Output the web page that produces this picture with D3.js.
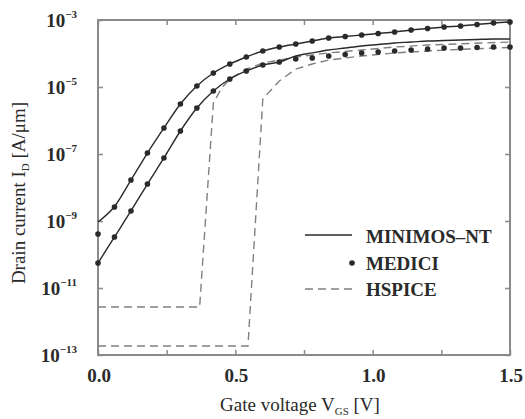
<!DOCTYPE html>
<html><head><meta charset="utf-8">
<script src="https://cdn.jsdelivr.net/npm/d3@7"></script>
<style>body{margin:0;background:#fff}</style>
</head><body>
<svg id="chart" width="525" height="419"></svg>
<script>
// Gate voltage grid of the device simulations [V]
const vgGrid = [0.00,0.06,0.12,0.18,0.24,0.30,0.36,0.42,0.48,0.54,0.60,0.66,0.72,
                0.78,0.84,0.90,0.96,1.02,1.08,1.14,1.20,1.26,1.32,1.38,1.44,1.50];

// MEDICI drain current [A/um]
const mediciUpper = [4.09e-10,2.62e-9,1.67e-8,1.07e-7,5.97e-7,3.11e-6,1.07e-5,2.62e-5,4.86e-5,
                     7.87e-5,1.19e-4,1.56e-4,1.92e-4,2.36e-4,2.90e-4,3.21e-4,3.56e-4,3.95e-4,
                     4.39e-4,5.02e-4,5.57e-4,6.18e-4,6.62e-4,7.35e-4,8.13e-4,8.71e-4];
const mediciLower = [5.57e-11,3.33e-10,1.99e-9,1.27e-8,7.60e-8,4.86e-7,2.36e-6,7.60e-6,1.73e-5,
                     3.01e-5,4.54e-5,5.57e-5,6.85e-5,7.34e-5,8.42e-5,9.33e-5,1.04e-4,1.11e-4,
                     1.19e-4,1.27e-4,1.36e-4,1.46e-4,1.46e-4,1.51e-4,1.56e-4,1.56e-4];

// MINIMOS-NT drain current [A/um]
const minimosUpper = [9.3e-10,2.7e-9,1.67e-8,1.07e-7,5.97e-7,3.11e-6,1.07e-5,2.62e-5,4.86e-5,
                      7.87e-5,1.19e-4,1.56e-4,1.92e-4,2.36e-4,2.90e-4,3.21e-4,3.56e-4,3.95e-4,
                      4.39e-4,5.02e-4,5.57e-4,6.18e-4,6.62e-4,7.35e-4,8.13e-4,8.71e-4];
const minimosLower = [5.57e-11,3.33e-10,1.99e-9,1.27e-8,7.60e-8,4.86e-7,2.36e-6,7.60e-6,1.73e-5,
                      3.01e-5,4.54e-5,5.57e-5,8.42e-5,1.04e-4,1.27e-4,1.46e-4,1.68e-4,1.86e-4,
                      2.06e-4,2.20e-4,2.36e-4,2.44e-4,2.53e-4,2.62e-4,2.71e-4,2.71e-4];

// HSPICE drain current [A/um]
const hspiceUpperVg = [0.00,0.37,0.42,0.45,0.48,0.54,0.60,0.72,0.84,0.96,1.08,1.20,1.35,1.50];
const hspiceUpperId = [2.7e-12,2.7e-12,3.3e-6,9.3e-6,1.73e-5,3.44e-5,5.2e-5,7.87e-5,1.04e-4,
                       1.27e-4,1.56e-4,1.79e-4,1.99e-4,2.2e-4];
const hspiceLowerVg = [0.00,0.546,0.60,0.66,0.72,0.78,0.84,0.96,1.08,1.20,1.35,1.50];
const hspiceLowerId = [1.86e-13,1.86e-13,4.39e-6,1.51e-5,3.44e-5,4.86e-5,6.4e-5,8.42e-5,
                       1.04e-4,1.19e-4,1.36e-4,1.51e-4];

// Axis ticks and labels
const xTicks = [0,0.25,0.5,0.75,1.0,1.25,1.5];
const xLabels = [0,0.5,1.0,1.5];
const yDecades = [-3,-5,-7,-9,-11,-13];
const legendNames = ["MINIMOS\u2013NT","MEDICI","HSPICE"];

const svg = d3.select("#chart");
const x = d3.scaleLinear().domain([0,1.5]).range([98,510]);
const y = d3.scaleLog().domain([1e-13,1e-3]).range([355,20]);

const frameColor = "#8a8a8a", ink = "#2a2a2a", dashColor = "#808080";
const serif = "'Liberation Serif','Times New Roman',serif";

// ticks on all four sides, pointing inward
function styleAxis(g){
  g.select(".domain").remove();
  g.selectAll(".tick line").attr("stroke",frameColor).attr("stroke-width",1.5);
}
svg.append("g").attr("transform","translate(0,355)")
  .call(d3.axisBottom(x).tickValues(xTicks).tickSize(-5).tickFormat("")).call(styleAxis);
svg.append("g").attr("transform","translate(0,20)")
  .call(d3.axisTop(x).tickValues(xTicks).tickSize(-5).tickFormat("")).call(styleAxis);
const yTickVals = yDecades.map(d => Math.pow(10,d));
svg.append("g").attr("transform","translate(98,0)")
  .call(d3.axisLeft(y).tickValues(yTickVals).tickSize(-5).tickFormat("")).call(styleAxis);
svg.append("g").attr("transform","translate(510,0)")
  .call(d3.axisRight(y).tickValues(yTickVals).tickSize(-5).tickFormat("")).call(styleAxis);

// plot frame
svg.append("rect").attr("x",98).attr("y",20).attr("width",412).attr("height",335)
  .attr("fill","none").attr("stroke",frameColor).attr("stroke-width",2);

// x tick labels
svg.selectAll("text.xl").data(xLabels).join("text").attr("class","xl")
  .attr("x",d => x(d)+1).attr("y",382).attr("text-anchor","middle")
  .attr("font-family",serif).attr("font-weight","bold").attr("font-size",19).attr("fill",ink)
  .text(d => d.toFixed(1));

// y tick labels as powers of ten
const yl = svg.selectAll("text.yl").data(yDecades).join("text").attr("class","yl")
  .attr("x",77).attr("y",d => y(Math.pow(10,d))+7).attr("text-anchor","end")
  .attr("font-family",serif).attr("font-weight","bold").attr("font-size",19).attr("fill",ink);
yl.append("tspan").text("10");
yl.append("tspan").attr("dy",-9).attr("font-size",11).text(d => "\u2212"+Math.abs(d));

// axis titles
const xt = svg.append("text").attr("x",300).attr("y",411).attr("text-anchor","middle")
  .attr("font-family",serif).attr("font-size",19).attr("fill",ink);
xt.append("tspan").text("Gate voltage V");
xt.append("tspan").attr("dy",4).attr("font-size",11).text("GS");
xt.append("tspan").attr("dy",-4).text(" [V]");

const yt = svg.append("text").attr("transform","translate(25,193) rotate(-90)")
  .attr("text-anchor","middle").attr("font-family",serif).attr("font-size",19).attr("fill",ink);
yt.append("tspan").text("Drain current I");
yt.append("tspan").attr("dy",4).attr("font-size",11).text("D");
yt.append("tspan").attr("dy",-4).text(" [A/\u03bcm]");

// curves
const solid = d3.line().x(d => x(d[0])).y(d => y(d[1])).curve(d3.curveMonotoneX);
const dashed = d3.line().x(d => x(d[0])).y(d => y(d[1]));
const zip = (a,b) => a.map((v,i) => [v,b[i]]);

[[hspiceUpperVg,hspiceUpperId],[hspiceLowerVg,hspiceLowerId]].forEach(([vx,vy]) => {
  svg.append("path").attr("d",dashed(zip(vx,vy))).attr("fill","none")
    .attr("stroke",dashColor).attr("stroke-width",1.4).attr("stroke-dasharray","8,5");
});
[minimosUpper,minimosLower].forEach(s => {
  svg.append("path").attr("d",solid(zip(vgGrid,s))).attr("fill","none")
    .attr("stroke",ink).attr("stroke-width",1.4);
});
[mediciUpper,mediciLower].forEach(s => {
  svg.append("g").selectAll("circle").data(zip(vgGrid,s)).join("circle")
    .attr("cx",d => x(d[0])).attr("cy",d => y(d[1])).attr("r",2.8).attr("fill",ink);
});

// legend
const lg = svg.append("g");
lg.append("line").attr("x1",305).attr("x2",352).attr("y1",235).attr("y2",235)
  .attr("stroke",ink).attr("stroke-width",1.4);
lg.append("circle").attr("cx",352).attr("cy",263).attr("r",2.8).attr("fill",ink);
lg.append("line").attr("x1",305).attr("x2",352).attr("y1",289).attr("y2",289)
  .attr("stroke",dashColor).attr("stroke-width",1.4).attr("stroke-dasharray","8,5");
lg.selectAll("text").data(legendNames).join("text")
  .attr("x",366).attr("y",(d,i) => [243,270,296][i])
  .attr("font-family",serif).attr("font-weight","bold").attr("font-size",19).attr("fill",ink)
  .text(d => d);
</script>
</body></html>
